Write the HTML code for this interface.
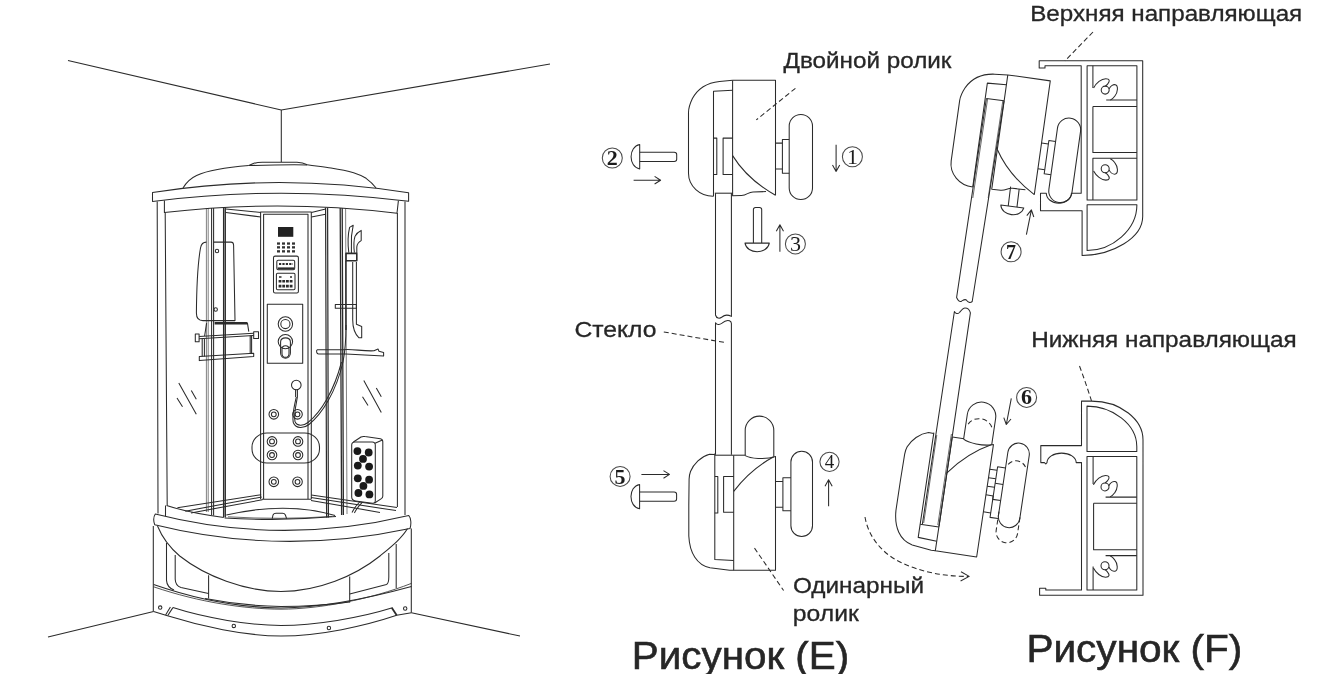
<!DOCTYPE html>
<html lang="ru">
<head>
<meta charset="utf-8">
<title>Рисунок (E), Рисунок (F)</title>
<style>
html,body{margin:0;padding:0;background:#fff;}
body{width:1324px;height:674px;overflow:hidden;font-family:"Liberation Sans",sans-serif;}
svg{display:block;will-change:transform;}
.l{fill:none;stroke:#2b2b2b;stroke-width:1.05;stroke-linecap:butt;stroke-linejoin:round;}
.t{fill:#262626;stroke:#262626;stroke-width:0.3;font-family:"Liberation Sans",sans-serif;}
.t.b{stroke-width:0.6;}
.n{fill:#1c1c1c;font-family:"Liberation Serif",serif;font-weight:bold;font-size:22px;text-anchor:middle;}
.n.r{font-weight:normal;}
.d{stroke-dasharray:5 3;}
</style>
</head>
<body>
<svg width="1324" height="674" viewBox="0 0 1324 674">
<defs>
<!-- top roller (double), drawing E coordinates -->
<g id="rt" class="l">
  <path d="M732.6 80.3 L719.5 81.4 C708 82.6 698 88 692.4 98.5 C690 103.5 688.5 108 688.5 112.5 V173.3 A24.6 22.9 0 0 0 713.5 196.2"/>
  <path d="M732.6 80.3 H775.5 V195.2"/>
  <path d="M732.6 80.3 V195.7 L741.5 195.5 C747 195.3 748 192 753 191.9 L766 191.6"/>
  <path d="M713.5 196.2 V91.3 L732.6 90.3"/>
  <path d="M732.6 155.6 C739 166 752 182 775.5 195.2"/>
  <path d="M775.5 143.1 H782.4 M775.5 169 H782.4"/>
  <path d="M789.2 139.5 H782.4 V173.2 H789.2"/>
  <path d="M789.2 126.1 A11.65 11.65 0 0 1 812.5 126.1 V187.9 A11.65 11.65 0 0 1 789.2 187.9 Z"/>
</g>
<!-- bottom roller (single), drawing E coordinates -->
<g id="rb" class="l">
  <path d="M714.8 454.4 L709.5 454.2 C701 456.5 693.5 464 690.5 471.5 C689.6 474 689.2 476 689.1 479 L688.8 505 V536 C689.6 553 697 565 710 567.8 L729.6 570.2 H733.7"/>
  <path d="M733.7 455.2 H745.5"/>
  <path d="M745.2 455.6 V430.4 A14.3 14.3 0 0 1 773.8 430.4 V456.5"/>
  <path d="M745.2 455.6 C750 458.5 765 460 775.5 456.5 V570.2 H733.7 V455.2"/>
  <path d="M714.8 453.5 V559.4 L733.7 560.6"/>
  <path d="M773.8 456.8 Q750.8 469 733.7 491.4"/>
  <path d="M775.5 481.4 H782.9 M775.5 507.3 H782.9"/>
  <path d="M790.9 477.8 H782.9 V510.8 H790.9"/>
  <path d="M790.9 462 A10.8 10.8 0 0 1 812.5 462 V525.7 A10.8 10.8 0 0 1 790.9 525.7 Z"/>
</g>
<g id="rtIn" class="l">
  <path d="M713.5 138.1 H716.8 V174.4 H713.5"/>
  <path d="M732.6 138.1 H723.1 V174.4 H732.6"/>
</g>
<g id="rbIn" class="l">
  <path d="M714.8 455.2 H733.7"/>
  <path d="M714.8 476.4 H717.8 V513 H714.8"/>
  <path d="M733.7 476.4 H723.6 V512.3 H733.7"/>
</g>
<g id="curl" class="l">
  <path d="M0.3 -12.4 C3 -17.5 8 -21.6 12.5 -21.6 C16.4 -21.6 17 -19.4 14.3 -16.2 C13.3 -15 12.6 -14.6 11.9 -14.2"/>
  <circle cx="11.9" cy="-10.2" r="4"/>
  <path d="M15.8 -11.4 C17 -14 19.8 -16 22 -15.6 C25.2 -14.8 24.6 -8 21.6 -4.3 C20.4 -2.6 19 -1.2 17 -0.2"/>
</g>
<g id="screwH" class="l">
  <!-- head at left, shaft to the right; origin = head flat side centre -->
  <path d="M0 -12.2 C-11.5 -10 -11.5 10 0 12.2 Z"/>
  <path d="M0 -4.6 H34.5 Q37 -4.6 37 -2.4 V2.4 Q37 4.6 34.5 4.6 H0"/>
</g>
</defs>

<!-- ===== labels ===== -->
<text class="t" x="1030.2" y="21" font-size="22" textLength="272" lengthAdjust="spacingAndGlyphs">Верхняя направляющая</text>
<text class="t" x="783.6" y="68.2" font-size="22" textLength="167.8" lengthAdjust="spacingAndGlyphs">Двойной ролик</text>
<text class="t" x="574.4" y="337.2" font-size="22" textLength="82" lengthAdjust="spacingAndGlyphs">Стекло</text>
<text class="t" x="1031.2" y="346.5" font-size="22" textLength="265.5" lengthAdjust="spacingAndGlyphs">Нижняя направляющая</text>
<text class="t" x="793" y="593.3" font-size="22" textLength="131" lengthAdjust="spacingAndGlyphs">Одинарный</text>
<text class="t" x="792.8" y="620.8" font-size="22" textLength="66" lengthAdjust="spacingAndGlyphs">ролик</text>
<text class="t b" x="631.8" y="668.9" font-size="39" textLength="217.3" lengthAdjust="spacingAndGlyphs">Рисунок (E)</text>
<text class="t b" x="1026.4" y="662.2" font-size="39" textLength="216" lengthAdjust="spacingAndGlyphs">Рисунок (F)</text>


<!-- ===== shower cabin ===== -->
<g id="cabin" class="l">
  <!-- room corner -->
  <path d="M68 60.5 L281.3 110 L550 64"/>
  <path d="M281.3 110 V162"/>
  <path d="M48 637 L153.6 611.5 M411.4 612.7 L520 636"/>
  <!-- roof cap + dome -->
  <path d="M248.8 165.6 L253.3 163.6 C256 162.6 259 162.2 262.3 162.2 H297 C301 162.3 304 163 307.2 164.7"/>
  <path d="M248.8 165.6 Q280 164.6 307.2 164.9"/>
  <path d="M183 188 C186 183 190 178.5 196.6 175.5 C206 171.3 226 167.4 248.8 165.6"/>
  <path d="M307.2 164.7 C316 166 324 167 331 168.1 C340 169.6 348 171.2 353.6 172.7 C359 174.4 363 176.3 366.1 178.3 C369.5 180.8 373.5 184.5 376.1 188"/>
  <!-- roof band -->
  <path d="M152.5 192.5 Q280 172.4 408.6 192.8 V201.3 Q280 185 152.5 201.5 Z"/>
  <path d="M164.4 200.4 V212.5 Q280 199 397 213.2 L398.4 200.6"/>
  <!-- outer posts -->
  <path d="M157.2 201.5 L158 513.5 M165.2 213 L167.2 505.5"/>
  <path d="M405 201.5 V515 M397.4 213 V507"/>
  <!-- door frames left -->
  <path d="M206.4 208.4 V512 M208.2 208.2 V512" stroke-width="0.6"/>
  <path d="M211.6 208 V515 M213.6 208 V515.5"/>
  <path d="M223.6 207.6 V517 M225.3 207.6 V517.4" stroke-width="1.3"/>
  <!-- door frames right -->
  <path d="M325.6 207.8 L326.6 517.6 M327.6 207.8 L328.4 517.6" stroke-width="1.2"/>
  <path d="M340.2 208 L341.6 515 M342.2 208 L343.4 515" stroke-width="1.3"/>
  <path d="M345.6 208.2 L347 514" stroke-width="0.6"/>
  <!-- back wall top -->
  <path d="M225.9 209.1 L261 212.5 M225.9 212.5 L261 217 M311.4 212.5 L325.6 209 M311.4 217 L325.6 214.2"/>
  <!-- column -->
  <path d="M260.6 499.3 V211.9 H311.3 V499.3"/>
  <path d="M263.6 499 V214.3 H308 V499"/>
  <!-- display + keypad -->
  <rect x="278" y="227" width="15.3" height="9.8" fill="#222" stroke="none"/>
  <g fill="#333" stroke="none">
    <rect x="277" y="242.4" width="3" height="2.3"/><rect x="282" y="242.4" width="3" height="2.3"/><rect x="287" y="242.4" width="3" height="2.3"/><rect x="292" y="242.4" width="3" height="2.3"/>
    <rect x="277" y="246.2" width="3" height="2.3"/><rect x="282" y="246.2" width="3" height="2.3"/><rect x="287" y="246.2" width="3" height="2.3"/><rect x="292" y="246.2" width="3" height="2.3"/>
    <rect x="277" y="250.2" width="3" height="2.3"/><rect x="282" y="250.2" width="3" height="2.3"/><rect x="287" y="250.2" width="3" height="2.3"/><rect x="292" y="250.2" width="3" height="2.3"/>
  </g>
  <rect x="273.5" y="256.1" width="24.9" height="36.9" rx="1.6"/>
  <rect x="276.8" y="260.3" width="17.9" height="9.4" rx="1.4"/>
  <path d="M277.6 268.4 H294" stroke-width="2"/>
  <path d="M279 264 H293" stroke-width="2.2" stroke-dasharray="2.2 1.2"/>
  <rect x="276.4" y="273.2" width="18.6" height="16.5" rx="1.2"/>
  <path d="M279 277 H281.5 M290 277 H292" stroke-width="1.6"/>
  <path d="M278.6 281.3 H293 M278.6 286.1 H293" stroke-width="2.6" stroke-dasharray="2.8 0.9"/>
  <!-- mixer panel -->
  <rect x="267.3" y="304.3" width="35.4" height="59"/>
  <circle cx="285.4" cy="324" r="7.2"/><circle cx="285.4" cy="324" r="4.6"/>
  <circle cx="285.4" cy="341.6" r="7.2"/>
  <path d="M280.6 342 C280.6 336.5 290.4 336.5 290.4 342 V353 C290.4 360 280.6 360 280.6 353 Z"/>
  <path d="M282 349 C282 344.8 289 344.8 289 349 V353.4 C289 358.6 282 358.6 282 353.4 Z"/>
  <!-- hand shower on column -->
  <circle cx="296.3" cy="385" r="4.8"/>
  <path d="M295.6 389.3 V397 M297.4 389.3 V397"/>
  <path d="M296.3 397 C294 407 291.5 417 293.5 423 C296 429 304 428.5 309 424.5 C322 414 336 392 343 362 C345 352 346 340 346 325"/>
  <path d="M297.4 397 C295.5 407 293.5 416 295 421.5 C297 426.5 303.5 426 308 422.5 C321 412 334 391 341.5 362"/>
  <!-- jets -->
  <g id="jets">
    <circle cx="273.8" cy="414.3" r="4.8"/><circle cx="273.8" cy="414.3" r="2.4"/>
    <circle cx="297.5" cy="414.3" r="4.8"/><circle cx="297.5" cy="414.3" r="2.4"/>
    <circle cx="272" cy="441.4" r="4.8"/><circle cx="272" cy="441.4" r="2.4"/>
    <circle cx="298" cy="441.4" r="4.8"/><circle cx="298" cy="441.4" r="2.4"/>
    <circle cx="272" cy="455" r="4.8"/><circle cx="272" cy="455" r="2.4"/>
    <circle cx="298" cy="455" r="4.8"/><circle cx="298" cy="455" r="2.4"/>
    <circle cx="273.8" cy="481.8" r="4.8"/><circle cx="273.8" cy="481.8" r="2.4"/>
    <circle cx="297.5" cy="481.8" r="4.8"/><circle cx="297.5" cy="481.8" r="2.4"/>
  </g>
  <rect x="252" y="433" width="67.5" height="30" rx="15" ry="14"/>
  <!-- seat back -->
  <path d="M213.6 242.1 H231 Q233.4 242.1 233.6 245 L235 320.6 H203 C198.5 320.6 196.4 318 196.4 313 C196.6 290 198 262 200.5 248 Q201.6 242.1 206.4 242.1"/>
  <circle cx="217" cy="251" r="1.7"/><circle cx="215.7" cy="309.5" r="1.7"/>
  <!-- seat / stool -->
  <path d="M214.6 323.2 H247.4" stroke-width="2.4"/>
  <path d="M247.4 322.8 L248.8 331.6 M206.6 323.2 L204.6 336"/>
  <rect x="195.3" y="334" width="3.8" height="7.7"/>
  <rect x="253.7" y="331.7" width="4.8" height="6.8"/>
  <path d="M199.1 336.4 L253.7 333.2 M199.1 338.8 L253.7 335.6"/>
  <path d="M202.2 339 V356.4 M204.4 339 V356.4 M250.2 335.6 V353.6 M251.6 335.6 V353.6"/>
  <path d="M199.3 356.6 L253.7 353.2 V356.4 L199.3 360.6 Z"/>
  <!-- right: rail, handset, shelf -->
  <path d="M352.7 262 V319.7 C352.7 328 355 334 359 337.8 H361.7 V326.4 L356.4 324.2 V262"/>
  <path d="M348.8 252.6 C347.6 243 348 234 349.6 227.4 L353.2 225.3 C351.6 232 351 240 351.4 247 V253"/>
  <path d="M354.4 252.6 C353.6 246 353.8 240 355 236.4 C356.4 233.4 358.6 231.6 361.2 230.4 V240.6 C358.6 242 357 244 356.8 247 V253"/>
  <rect x="346" y="253.4" width="10.8" height="7.4" stroke-width="1.6"/>
  <path d="M345.9 261 V330" stroke-width="1.5"/>
  <rect x="335.3" y="304.4" width="21.1" height="3.9"/>
  <path d="M317.4 349.8 H343 C352 348.6 362 351.4 374 350.8 L378 349 L379 351.2 L383.6 352.4 V356 L346 354 H318.6 C316.4 354 316 350.4 317.4 349.8 Z"/>
  <!-- glass reflections -->
  <path d="M178.8 383 L196.3 414.3 M191.3 390.5 L196.3 399.3 M177 398 L182.5 406.8"/>
  <path d="M363.8 380.5 L381.3 412.5 M376.3 388 L381.3 396.8 M362.5 396.8 L368 405.5"/>
  <!-- foot massager -->
  <path d="M351.7 445 Q351.7 441.9 354.8 441.9 H372.2 Q375.3 441.9 375.3 445 V500.4 Q375.3 503.6 372.4 503.2 L355.6 500.9 Q351.7 500.4 351.7 497 Z"/>
  <path d="M353.4 442 L361 437 Q362.6 436.2 365 436.6 L380.4 438.8 Q382.8 439.4 382.8 441.8 V496 Q382.8 497.6 381.4 498.6 L374.6 503"/>
  <path d="M375 443.2 L382.4 440"/>
  <g fill="#1a1a1a" stroke="none">
    <circle cx="357.4" cy="451.1" r="3.9"/><circle cx="368.7" cy="452.5" r="3.9"/>
    <circle cx="363" cy="458.9" r="3.9"/>
    <circle cx="357.8" cy="465.6" r="3.9"/><circle cx="369.1" cy="466.6" r="3.9"/>
    <circle cx="357.8" cy="478.3" r="3.9"/><circle cx="369.1" cy="479.7" r="3.9"/>
    <circle cx="363.4" cy="485.9" r="3.9"/>
    <circle cx="358.4" cy="493" r="3.9"/><circle cx="369.4" cy="494.4" r="3.9"/>
  </g>
  <path d="M359.6 502 C356.6 505 354 508.5 352 512.6 M362 502.6 C359 505.6 356.4 509 354.4 513"/>
  <!-- tray interior -->
  <path d="M166.6 505.5 C185 511.5 205 515 223.8 517.4 M165.5 505.5 V516.3"/>
  <path d="M177.4 507.8 L261.2 494.7 M185.3 511.2 L261.8 497 M191 512.9 L262.4 499.8"/>
  <path d="M261.8 499.3 H311.3 M311.3 495 L397 507.5 M311 497.6 L396 510.6 M311 500.4 L380 512.4"/>
  <path d="M226.3 515 Q287 501.2 335.1 515.6"/>
  <path d="M224.6 517.9 Q280 521.4 336 516.6"/>
  <path d="M228 516.8 Q280 520 332 516.4" stroke-width="0.7"/>
  <path d="M272.2 518.6 L273 515 Q273.8 513.3 276 513.3 H282.5 Q284.6 513.3 285.4 515 L286.6 518.6"/>
  <!-- tray rim -->
  <path d="M155.3 514 Q281 546 408.8 515.5 C411 518 411.5 524 410 528.5 Q281 556 154.7 524.7 C153.4 521 153.6 516.5 155.3 514 Z"/>
  <!-- bowl -->
  <path d="M157.5 526 C162 537 168 546 179.7 556 C205 576 245 591.5 281 591.5 C318 591.5 355 576 380 556 C392 546 402 538 407.5 528.5"/>
  <!-- apron -->
  <path d="M153.3 526 V611.5 M411.3 528.5 V612.7"/>
  <path d="M166.5 543 V580.4 C166.8 585 170 588.5 174 590"/>
  <path d="M175.2 555 V579.3 C175.4 584 177 586.4 181 587.4 L208.5 593.4"/>
  <path d="M208.6 575.3 V598.5 M349.7 576.4 V602.5"/>
  <path d="M349.7 594 L386.5 584.4 C388.4 583.6 388.8 581 388.8 577 V553"/>
  <path d="M396.2 544 V588.3"/>
  <!-- base -->
  <path d="M153.6 584.4 C200 600.5 245 607.6 281 607.9 C320 607.9 370 598 411.4 586.6"/>
  <path d="M153.6 586.8 C200 602.6 245 609 281 609.2 C320 609 370 599.5 411.4 583.4" stroke-width="0.8"/>
  <path d="M205.1 598.5 C230 603.4 260 606.2 281 606.4 C305 606.4 330 604.6 349.7 601.9"/>
  <path d="M153.6 611.5 L166.6 615.5 C200 626 245 636 281 636 C320 636 365 626 396.7 615.3 L411.4 612.7"/>
  <path d="M172.9 607.6 C205 618 250 625.5 281 625.5 C315 625.5 360 618 391.6 608.1"/>
  <path d="M172.9 607.6 L167.8 615.5 M170.4 607 L165.6 615" />
  <path d="M391.6 607.6 L396.7 615.3" stroke-width="1.8"/>
  <circle cx="160.2" cy="607.6" r="1.7"/><circle cx="233.8" cy="625.9" r="1.7"/><circle cx="328.9" cy="628" r="1.7"/><circle cx="405.2" cy="608.5" r="1.7"/>
</g>
<!-- ===== drawing E ===== -->
<g id="figE">
  <use href="#rt"/>
  <use href="#rtIn"/>
  <use href="#rb"/>
  <use href="#rbIn"/>
  <g class="l">
    <!-- glass -->
    <path d="M714.8 193.2 H732.6"/>
    <path d="M715.5 193.2 V315 C716.5 318.6 719.5 319 722 317 C724.5 314.8 727.5 314.4 731.4 316.4 V193.2"/>
    <path d="M715.5 454.8 V322.7 C717 325 719.5 325.2 722 323.2 C724.5 321 727.5 320 729.5 320.8 C730.8 321.4 731.4 322.2 731.4 323.5 V454.8"/>
    <!-- leaders -->
    <path class="d" d="M795.4 88.3 L756.3 119.9"/>
    <path class="d" d="M663.8 332 L724.9 342.5"/>
    <path class="d" d="M754.5 548.1 L783.6 590.5"/>
    <!-- arrows -->
    <path d="M633.6 180.2 H660.6 M654.6 176.4 L660.6 180.2 L654.6 184"/>
    <path d="M836.1 144.8 V171.4 M832.5 165 L836.1 171.4 L839.7 165"/>
    <path d="M779.9 251.7 V224.8 M776.3 231.2 L779.9 224.8 L783.5 231.2"/>
    <path d="M828.6 506.3 V479.8 M825 486.2 L828.6 479.8 L832.2 486.2"/>
    <path d="M641.4 474.4 H669.5 M663.5 470.6 L669.5 474.4 L663.5 478.2"/>
    <!-- vertical screw 3 -->
    <path d="M753.4 243.1 V209.6 Q753.4 207.4 755.6 207.4 H759.5 Q761.7 207.4 761.7 209.6 V243.1"/>
    <path d="M745 243.1 H769.3 C767.5 254.5 746.8 254.5 745 243.1 Z"/>
  </g>
  <use href="#screwH" transform="translate(639.7,156.8)"/>
  <use href="#screwH" transform="translate(639.6,496.6)"/>
  <g class="l" style="stroke:#4a4a4a">
    <circle cx="852.4" cy="156.7" r="10"/>
    <circle cx="612.3" cy="158" r="10"/>
    <circle cx="795.4" cy="243.9" r="10"/>
    <circle cx="829.5" cy="461.8" r="9.6"/>
    <circle cx="620.1" cy="476.4" r="10"/>
  </g>
  <text class="n r" x="852.4" y="164.2">1</text>
  <text class="n" x="612.3" y="165">2</text>
  <text class="n r" x="795.4" y="251.4">3</text>
  <text class="n r" x="829.5" y="468.4" style="font-size:19px">4</text>
  <text class="n" x="620.1" y="483.9">5</text>
</g>

<!-- ===== drawing F ===== -->
<g id="figF">
  <use href="#rt" transform="translate(1007.8,74.9) rotate(8) translate(-732.6,-80.3)"/>
  <use href="#rb" transform="translate(952.3,437.1) rotate(8.5) translate(-733.7,-455.2)"/>
  <g class="l" transform="translate(952.3,437.1) rotate(8.5) translate(-733.7,-455.2)">
    <path d="M714.8 546.2 H733.7"/>
    <path d="M775.5 490 H782.9 M775.5 498.6 H782.9 M782.9 494.5 H790.9"/>
    <path d="M775.5 524.5 H782.9 V507.3 M782.9 510.8 V529 H790.9"/>
    <path class="d" d="M747.5 440 C752 430.5 767 430.5 771.5 440"/>
    <path class="d" d="M793 474 C797 467.5 806.5 467.5 810.5 474"/>
    <path class="d" d="M790.9 522 V541 A10.8 10.8 0 0 0 812.5 541 V522"/>
  </g>
  <g class="l">
    <!-- glass F -->
    <path d="M986.4 98.5 L1004 100.8"/>
    <path d="M986.4 98.5 L956.6 297.5 C958 300.5 959.5 302.3 961.5 301.2 C963.5 300 965 298.6 966.5 300.2 C968 302.2 970 303.5 972.2 301.5 L1004 100.8"/>
    <path d="M987.6 99 L972.8 198 M1002.8 101 L988.2 198" stroke-width="0.7"/>
    <path d="M922.4 524 L954.4 311.5 C955.5 313.5 957.5 314.5 959.5 312.5 C961.5 310 963 308 965 308 C967.5 308 969.5 309.5 970.4 312.8 L939 526.5"/>
    <path d="M923.7 523 L936.8 435 M937.8 525 L951.4 434" stroke-width="0.7"/>
  </g>
  <g class="l">
    <!-- upper rail -->
    <path d="M1039.2 60.8 H1142.7 V216.5 C1142.7 238 1112 255.5 1082.1 255.5 V210.7 H1040.5 V193.2 H1046.3 A12.6 10 0 0 0 1058.8 203.2 A12.6 10 0 0 0 1071.4 193.2 H1081.2 V65.8 H1045 V67.9 H1039.2 Z"/>
    <path d="M1087.1 199.9 V65.8 H1136.9 V199.9 Z"/>
    <path d="M1087.1 204.8 H1136.9 C1136.9 230 1112 250.5 1087.1 250.5 Z"/>
    <path d="M1092.9 65.8 V88 M1106.2 99.9 H1136.9"/>
    <path d="M1092.9 106.5 H1136.9 M1092.9 106.5 V152.5 H1136.9"/>
    <path d="M1092.9 199.9 V158.3 H1136.9"/>
    <use href="#curl" transform="translate(1093.3,100.3)"/>
    <use href="#curl" transform="translate(1093.3,158.5) scale(1,-1)"/>
    <use href="#curl" transform="translate(1093.1,497.1)"/>
    <use href="#curl" transform="translate(1093.1,555.6) scale(1,-1)"/>
    <!-- lower rail -->
    <path d="M1081.5 401.1 H1091.5 C1121 401.1 1143 420 1143 439.8 V595.3 H1039.6 V588.2 H1045.8 V589.9 H1081.5 V462.6 H1076.2 A14.6 9.5 0 0 0 1061.6 453.1 A14.6 9.5 0 0 0 1047 462.6 L1045.8 464 L1044.4 462.6 H1040.8 V445.6 H1081.5 Z"/>
    <path d="M1087 406.1 C1112 406.1 1136.8 424 1136.8 446.5 V451.5 H1087 Z"/>
    <path d="M1087 456.4 H1136.8 V589.9 H1087 Z"/>
    <path d="M1093.1 456.4 V483.9 M1105.6 497.1 H1136.8"/>
    <path d="M1093.6 503.3 H1136.8 M1093.6 503.3 V549.8 H1136.8"/>
    <path d="M1105.6 555.6 H1136.8 M1093.1 566.4 V589.9"/>
    <!-- leaders -->
    <path class="d" d="M1093 32 L1065 60.8"/>
    <path class="d" d="M1079.5 366 C1084 378 1088 390 1091.5 400.8"/>
    <!-- arrows -->
    <path d="M1026.4 234.7 L1031.4 209.8 M1026.8 215.6 L1031.4 209.8 L1033.8 217"/>
    <path d="M1011.3 398.3 L1006.3 424.5 M1003.8 417.6 L1006.3 424.5 L1011 419"/>
    <!-- screw 7 -->
    <g transform="rotate(7 1012.3 206.5)">
      <path d="M1008.2 206.5 V187 M1017 206.5 V188.4"/>
      <path d="M1000.7 206.5 H1023.9 C1022 217.4 1002.6 217.4 1000.7 206.5 Z"/>
    </g>
    <!-- dashed swing arrow -->
    <path class="d" d="M865 517 C868 535 880 552 900 562 C920 572 945 576.6 968.9 576.4"/>
    <path d="M961 571.8 L969.2 576.4 L960.6 581"/>
  </g>
  <g class="l" style="stroke:#4a4a4a">
    <circle cx="1011.1" cy="251.7" r="10"/>
    <circle cx="1026.6" cy="397.4" r="10"/>
  </g>
  <text class="n" x="1011.1" y="258.8" style="font-size:20px">7</text>
  <text class="n" x="1026.6" y="404.3">6</text>
</g>
</svg>
</body>
</html>
